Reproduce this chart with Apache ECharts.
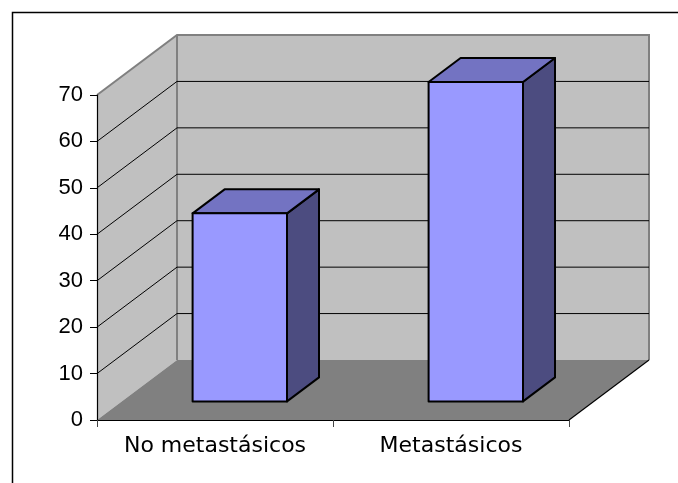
<!DOCTYPE html>
<html>
<head>
<meta charset="utf-8">
<script src="https://cdn.jsdelivr.net/npm/echarts@6/dist/echarts.min.js"></script>
<style>
  html, body { margin: 0; padding: 0; background: #fff; }
  #chart { width: 678px; height: 483px; }
</style>
</head>
<body>
<div id="chart"></div>
<script>
// Chart data
const categories = ['No metastásicos', 'Metastásicos'];
const cases = [40.5, 68.8];
const gridValues = [10, 20, 30, 40, 50, 60];
const yMin = 0;
const yMax = 70;
const yStep = 10;

// Depth of the 3D box (screen offset from front plane to back wall)
const DX = 80, DY = -60;
// Bars sit between these fractions of the depth
const F0 = 0.31, F1 = 0.71;
const BAR_FRACTION = 0.4;

const chart = echarts.init(document.getElementById('chart'), null, { renderer: 'canvas' });

function renderWalls(params, api) {
  const cs = params.coordSys;
  const x0 = cs.x, x1 = cs.x + cs.width;
  const yb = api.coord([0, yMin])[1];
  const yt = api.coord([0, yMax])[1];
  const wallStyle = { fill: '#c0c0c0', stroke: null };
  const edge = { stroke: '#808080', lineWidth: 2, fill: null };
  return {
    type: 'group',
    children: [
      { type: 'polygon', shape: { points: [[x0, yt], [x0 + DX, yt + DY], [x0 + DX, yb + DY], [x0, yb]] }, style: wallStyle },
      { type: 'polygon', shape: { points: [[x0 + DX, yt + DY], [x1 + DX, yt + DY], [x1 + DX, yb + DY], [x0 + DX, yb + DY]] }, style: wallStyle },
      { type: 'polygon', shape: { points: [[x0, yb], [x1, yb], [x1 + DX, yb + DY], [x0 + DX, yb + DY]] }, style: { fill: '#808080', stroke: null } },
      { type: 'polyline', shape: { points: [[x0, yt], [x0 + DX, yt + DY], [x1 + DX, yt + DY], [x1 + DX, yb + DY]] }, style: edge },
      { type: 'line', shape: { x1: x0 + DX, y1: yt + DY, x2: x0 + DX, y2: yb + DY }, style: edge },
      { type: 'line', shape: { x1: x1, y1: yb, x2: x1 + DX, y2: yb + DY }, style: { stroke: '#000', lineWidth: 1.2 } }
    ]
  };
}

function renderGridLine(params, api) {
  const cs = params.coordSys;
  const x0 = cs.x, x1 = cs.x + cs.width;
  const y = api.coord([0, api.value(0)])[1];
  return {
    type: 'polyline',
    shape: { points: [[x0, y], [x0 + DX, y + DY], [x1 + DX, y + DY]] },
    style: { stroke: '#000', lineWidth: 1, fill: null }
  };
}

function renderBar(params, api) {
  const idx = api.value(0);
  const top = api.coord([idx, api.value(1)]);
  const base = api.coord([idx, yMin]);
  const band = api.size([1, 0])[0];
  const w = band * BAR_FRACTION;
  const lx = top[0] - w / 2 + F0 * DX;
  const rx = lx + w;
  const ty = top[1] + F0 * DY;
  const by = base[1] + F0 * DY;
  const ddx = (F1 - F0) * DX, ddy = (F1 - F0) * DY;
  const outline = { stroke: '#000', lineWidth: 2, lineJoin: 'round' };
  return {
    type: 'group',
    children: [
      { type: 'polygon', shape: { points: [[rx, ty], [rx + ddx, ty + ddy], [rx + ddx, by + ddy], [rx, by]] },
        style: Object.assign({ fill: '#4c4c80' }, outline) },
      { type: 'polygon', shape: { points: [[lx, ty], [lx + ddx, ty + ddy], [rx + ddx, ty + ddy], [rx, ty]] },
        style: Object.assign({ fill: '#7373c2' }, outline) },
      { type: 'rect', shape: { x: lx, y: ty, width: w, height: by - ty },
        style: Object.assign({ fill: '#9999ff' }, outline) }
    ]
  };
}

const option = {
  animation: false,
  backgroundColor: '#ffffff',
  grid: { left: 97, right: 109, top: 95, bottom: 63, containLabel: false },
  xAxis: {
    type: 'category',
    data: categories,
    boundaryGap: true,
    z: 10,
    axisLine: { show: true, lineStyle: { color: '#000', width: 1.2 } },
    axisTick: { show: true, length: 7, alignWithLabel: false, lineStyle: { color: '#444', width: 1 } },
    axisLabel: { interval: 0, margin: 15, color: '#000', fontFamily: 'DejaVu Sans', fontSize: 22 },
    splitLine: { show: false }
  },
  yAxis: {
    type: 'value',
    min: yMin,
    max: yMax,
    interval: yStep,
    z: 10,
    axisLine: { show: true, lineStyle: { color: '#000', width: 1.2 } },
    axisTick: { show: true, length: 7, lineStyle: { color: '#000', width: 1 } },
    axisLabel: { margin: 14, color: '#000', fontFamily: 'Liberation Sans', fontSize: 22 },
    splitLine: { show: false }
  },
  graphic: [
    { type: 'rect', left: 10, top: 10, z: 100, silent: true,
      shape: { x: 0, y: 0, width: 720, height: 520 },
      style: { fill: null, stroke: '#000', lineWidth: 1.5 } }
  ],
  series: [
    { type: 'custom', name: 'walls', renderItem: renderWalls, data: [[0]], z: 1, silent: true },
    { type: 'custom', name: 'grid', renderItem: renderGridLine, data: gridValues.map(v => [v]), z: 2, silent: true },
    { type: 'custom', name: 'Casos', renderItem: renderBar,
      data: cases.map((v, i) => [i, v]), encode: { x: 0, y: 1 }, z: 3 }
  ]
};

chart.setOption(option);
</script>
</body>
</html>
